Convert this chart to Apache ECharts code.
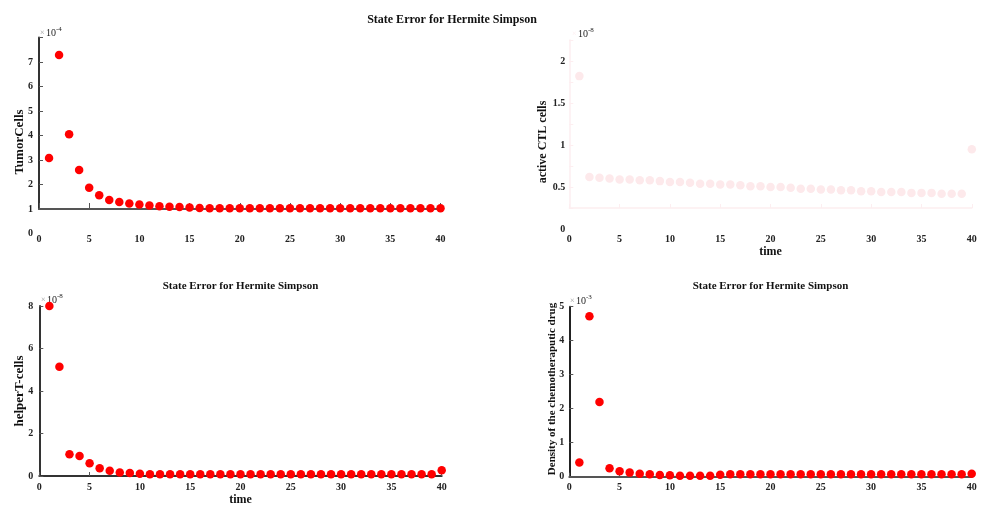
<!DOCTYPE html>
<html>
<head>
<meta charset="utf-8">
<script src="https://cdn.jsdelivr.net/npm/echarts@6/dist/echarts.min.js"></script>
<style>
  html, body { margin: 0; background: #fff; }
  #chart { width: 1000px; height: 515px; }
</style>
</head>
<body>
<div id="chart"></div>
<script>
// time steps shared by the four panels
const timeSteps = [1, 2, 3, 4, 5, 6, 7, 8, 9, 10, 11, 12, 13, 14, 15, 16, 17, 18, 19, 20,
                   21, 22, 23, 24, 25, 26, 27, 28, 29, 30, 31, 32, 33, 34, 35, 36, 37, 38, 39, 40];

// state errors, already divided by the multiplier shown on each axis
const tumorErr = [3.08, 7.29, 4.05, 2.59, 1.87, 1.56, 1.37, 1.29, 1.22, 1.18,
                  1.14, 1.11, 1.09, 1.08, 1.06, 1.04, 1.03, 1.03, 1.03, 1.03,
                  1.03, 1.03, 1.03, 1.03, 1.03, 1.03, 1.03, 1.03, 1.03, 1.03,
                  1.03, 1.03, 1.03, 1.03, 1.03, 1.03, 1.03, 1.03, 1.03, 1.03];      // x1e-4
const ctlErr = [1.82, 0.62, 0.61, 0.60, 0.59, 0.59, 0.58, 0.58, 0.57, 0.56,
                0.56, 0.55, 0.54, 0.54, 0.53, 0.53, 0.52, 0.51, 0.51, 0.50,
                0.50, 0.49, 0.48, 0.48, 0.47, 0.47, 0.46, 0.46, 0.45, 0.45,
                0.44, 0.44, 0.44, 0.43, 0.43, 0.43, 0.42, 0.42, 0.42, 0.95];        // x1e-8
const helperErr = [8.00, 5.14, 1.02, 0.94, 0.60, 0.36, 0.25, 0.17, 0.14, 0.11,
                   0.08, 0.08, 0.08, 0.08, 0.08, 0.08, 0.08, 0.08, 0.08, 0.08,
                   0.08, 0.08, 0.08, 0.08, 0.08, 0.08, 0.08, 0.08, 0.08, 0.08,
                   0.08, 0.08, 0.08, 0.08, 0.08, 0.08, 0.08, 0.08, 0.08, 0.27];     // x1e-8
const drugErr = [0.42, 4.72, 2.20, 0.25, 0.16, 0.12, 0.09, 0.07, 0.05, 0.04,
                 0.03, 0.03, 0.03, 0.03, 0.06, 0.07, 0.07, 0.07, 0.07, 0.07,
                 0.07, 0.07, 0.07, 0.07, 0.07, 0.07, 0.07, 0.07, 0.07, 0.07,
                 0.07, 0.07, 0.07, 0.07, 0.07, 0.07, 0.07, 0.07, 0.07, 0.09];       // x1e-3

const titleText = 'State Error for Hermite Simpson';
const yNames = ['TumorCells', 'active CTL cells', 'helperT-cells', 'Density of the chemotheraputic drug'];

const FONT = 'Liberation Serif';
const pink = '#fde9eb';
const pinkAxis = '#fdeef0';

const chart = echarts.init(document.getElementById('chart'));
const pairs = arr => timeSteps.map((t, i) => [t, arr[i]]);

const tickLabel = { fontFamily: FONT, fontWeight: 'bold', fontSize: 10, color: '#222' };

// x axis factory
function xAx(grid, opts) {
    return Object.assign({
        type: 'value', gridIndex: grid, min: 0, max: 40, interval: 5,
        splitLine: { show: false },
        axisLine: { show: false },
        axisTick: { show: false },
        axisLabel: Object.assign({ show: false }, tickLabel)
    }, opts);
}
function yAx(grid, opts) {
    return Object.assign({
        type: 'value', gridIndex: grid,
        splitLine: { show: false },
        axisLine: { show: false },
        axisTick: { show: false },
        axisLabel: Object.assign({ show: false }, tickLabel)
    }, opts);
}

function scatter(idx, data, color) {
    return {
        type: 'scatter', xAxisIndex: idx, yAxisIndex: idx,
        symbol: 'circle', symbolSize: 8.5,
        itemStyle: { color: color, opacity: 1 },
        data: data, silent: true
    };
}

// "x10^n" multiplier above a y axis
function multiplier(x, y, exp, timesColor) {
    return [
        { type: 'text', x: x, y: y, style: { text: '×', fill: timesColor, font: '8px ' + FONT, verticalAlign: 'middle' } },
        { type: 'text', x: x + 6, y: y, style: { text: '10', fill: '#222', font: '10px ' + FONT, verticalAlign: 'middle' } },
        { type: 'text', x: x + 16, y: y - 4, style: { text: exp, fill: '#222', font: '7px ' + FONT, verticalAlign: 'middle' } }
    ];
}

function yName(text, x, y, size) {
    return {
        type: 'text', x: x, y: y, rotation: Math.PI / 2,
        style: { text: text, fill: '#111', font: 'bold ' + size + 'px ' + FONT, align: 'center', verticalAlign: 'middle' }
    };
}
function titleEl(x, y, size) {
    return {
        type: 'text', x: x, y: y,
        style: { text: titleText, fill: '#111', font: 'bold ' + size + 'px ' + FONT, align: 'center', verticalAlign: 'middle' }
    };
}

const option = {
    backgroundColor: '#fff',
    animation: false,
    grid: [
        { left: 39, top: 37.5, width: 401.5, height: 196 },     // 0 top-left values
        { left: 39, top: 37.5, width: 401.5, height: 171.5 },   // 1 top-left frame (1..8)
        { left: 569.3, top: 40, width: 402.5, height: 189 },    // 2 top-right values
        { left: 569.3, top: 40, width: 402.5, height: 168 },    // 3 top-right frame (0.25..2.25)
        { left: 39.3, top: 306, width: 402.4, height: 170 },    // 4 bottom-left
        { left: 569.3, top: 306.7, width: 402.4, height: 170 }  // 5 bottom-right
    ],
    xAxis: [
        xAx(0, { axisLabel: Object.assign({}, tickLabel, { show: true, margin: 1 }) }),
        xAx(1, { axisLine: { show: true, lineStyle: { color: '#555', width: 2 } },
                 axisTick: { show: true, inside: true, length: 6, lineStyle: { color: '#555' } } }),
        xAx(2, { axisLabel: Object.assign({}, tickLabel, { show: true, margin: 5 }),
                 name: 'time', nameLocation: 'middle', nameGap: 17,
                 nameTextStyle: { fontFamily: FONT, fontWeight: 'bold', fontSize: 12, color: '#111' } }),
        xAx(3, { axisLine: { show: true, lineStyle: { color: pinkAxis, width: 1.5 } },
                 axisTick: { show: true, inside: true, length: 4, lineStyle: { color: pinkAxis } } }),
        xAx(4, { axisLine: { show: true, lineStyle: { color: '#333', width: 2 } },
                 axisTick: { show: true, inside: true, length: 4, lineStyle: { color: '#555' } },
                 axisLabel: Object.assign({}, tickLabel, { show: true, margin: 6 }),
                 name: 'time', nameLocation: 'middle', nameGap: 18,
                 nameTextStyle: { fontFamily: FONT, fontWeight: 'bold', fontSize: 12, color: '#111' } }),
        xAx(5, { axisLine: { show: true, lineStyle: { color: '#555', width: 2 } },
                 axisTick: { show: true, inside: true, length: 4, lineStyle: { color: '#555' } },
                 axisLabel: Object.assign({}, tickLabel, { show: true, margin: 6 }) })
    ],
    yAxis: [
        yAx(0, { min: 0, max: 8, interval: 1,
                 axisLabel: Object.assign({}, tickLabel, { show: true, margin: 6,
                     formatter: v => (v >= 8 ? '' : String(v)) }) }),
        yAx(1, { min: 1, max: 8, interval: 1,
                 axisLine: { show: true, lineStyle: { color: '#333', width: 2 } },
                 axisTick: { show: true, inside: true, length: 4, lineStyle: { color: '#555' } } }),
        yAx(2, { min: 0, max: 2.25, interval: 0.5,
                 axisLabel: Object.assign({}, tickLabel, { show: true, margin: 4,
                     formatter: v => (Math.abs(v * 2 - Math.round(v * 2)) < 1e-6 ? String(v) : '') }) }),
        yAx(3, { min: 0.25, max: 2.25, interval: 0.25,
                 axisLine: { show: true, lineStyle: { color: pinkAxis, width: 1.5 } },
                 axisTick: { show: true, inside: true, length: 4, lineStyle: { color: pinkAxis } } }),
        yAx(4, { min: 0, max: 8, interval: 2,
                 axisLine: { show: true, lineStyle: { color: '#333', width: 2 } },
                 axisTick: { show: true, inside: true, length: 4, lineStyle: { color: '#555' } },
                 axisLabel: Object.assign({}, tickLabel, { show: true, margin: 6 }) }),
        yAx(5, { min: 0, max: 5, interval: 1,
                 axisLine: { show: true, lineStyle: { color: '#222', width: 2 } },
                 axisTick: { show: true, inside: true, length: 4, lineStyle: { color: '#555' } },
                 axisLabel: Object.assign({}, tickLabel, { show: true, margin: 5 }) })
    ],
    series: [
        scatter(0, pairs(tumorErr), '#ff0000'),
        { type: 'scatter', xAxisIndex: 1, yAxisIndex: 1, data: [] },
        scatter(2, pairs(ctlErr), pink),
        { type: 'scatter', xAxisIndex: 3, yAxisIndex: 3, data: [] },
        scatter(4, pairs(helperErr), '#ff0000'),
        scatter(5, pairs(drugErr), '#ff0000')
    ],
    graphic: [
        titleEl(452, 19.5, 12),
        titleEl(240.5, 286, 11),
        titleEl(770.5, 286, 11),
        yName(yNames[0], 20, 142, 13),
        yName(yNames[1], 543, 142, 12),
        yName(yNames[2], 20, 391, 13),
        yName(yNames[3], 552, 389, 11),
        ...multiplier(40, 33, '-4', '#999'),
        ...multiplier(572, 34, '-8', pinkAxis),
        ...multiplier(41, 300, '-8', '#999'),
        ...multiplier(570, 301, '-3', '#999')
    ]
};

chart.setOption(option);
</script>
</body>
</html>
